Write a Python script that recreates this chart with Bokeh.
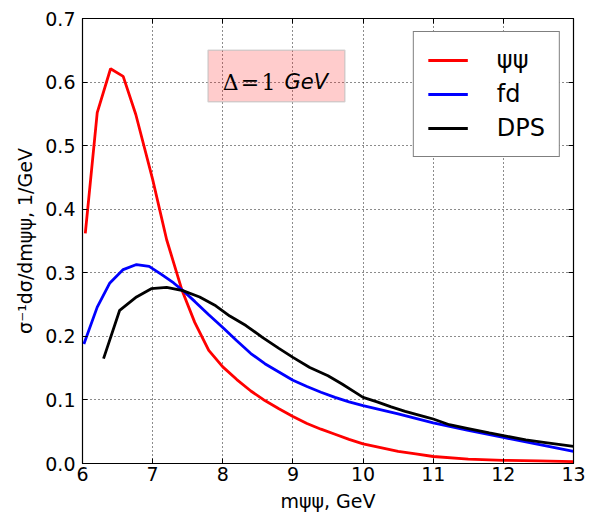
from bokeh.plotting import figure
from bokeh.models import (LinearAxis, Range1d, Legend, LegendItem, BoxAnnotation,
                          Label, FixedTicker, CustomJSTickFormatter, CustomLabelingPolicy)
from bokeh.embed import file_html
from bokeh.resources import INLINE

# ---- data ----
psi_x = [6.04, 6.21, 6.40, 6.58, 6.76, 7.0, 7.2, 7.42, 7.6, 7.8, 8.0, 8.2, 8.4, 8.6, 8.8,
         9.0, 9.2, 9.4, 9.6, 9.8, 10.0, 10.25, 10.5, 10.75, 11.0, 11.5, 12.0, 12.5, 13.0]
psi_y = [0.362, 0.552, 0.621, 0.609, 0.549, 0.447, 0.352, 0.272, 0.222, 0.178, 0.152, 0.132,
         0.114, 0.099, 0.086, 0.074, 0.063, 0.054, 0.046, 0.038, 0.031, 0.025, 0.019, 0.015,
         0.011, 0.007, 0.005, 0.004, 0.003]

fd_x = [6.02, 6.21, 6.39, 6.58, 6.77, 6.95, 7.13, 7.3, 7.43, 7.6, 7.8, 8.0, 8.2, 8.4, 8.6,
        8.8, 9.0, 9.2, 9.4, 9.6, 9.8, 10.0, 10.5, 11.0, 11.5, 12.0, 12.5, 13.0]
fd_y = [0.188, 0.246, 0.284, 0.305, 0.313, 0.310, 0.297, 0.284, 0.272, 0.255, 0.234, 0.214,
        0.193, 0.173, 0.157, 0.144, 0.131, 0.121, 0.112, 0.104, 0.097, 0.091, 0.078, 0.064,
        0.052, 0.041, 0.030, 0.019]

dps_x = [6.3, 6.53, 6.77, 6.98, 7.2, 7.43, 7.67, 7.9, 8.1, 8.33, 8.57, 8.8, 9.0, 9.24, 9.5,
         9.7, 9.9, 10.0, 10.2, 10.4, 10.6, 10.9, 11.0, 11.23, 11.5, 11.8, 12.0, 12.32, 12.6, 13.0]
dps_y = [0.165, 0.241, 0.262, 0.275, 0.277, 0.272, 0.262, 0.248, 0.232, 0.217, 0.198, 0.181,
         0.167, 0.151, 0.138, 0.125, 0.111, 0.104, 0.097, 0.089, 0.082, 0.073, 0.070, 0.061,
         0.055, 0.048, 0.044, 0.037, 0.033, 0.027]

x_ticks = [6, 7, 8, 9, 10, 11, 12, 13]
y_ticks = [0.0, 0.1, 0.2, 0.3, 0.4, 0.5, 0.6, 0.7]
series_labels = ["ψψ", "fd", "DPS"]
series_colors = ["#ff0000", "#0000ff", "#000000"]

FONT = "DejaVu Sans"
TICK_FS = "19px"

p = figure(width=591, height=521, output_backend="svg", toolbar_location=None,
           x_range=Range1d(6, 13), y_range=Range1d(0, 0.7),
           min_border_left=82, min_border_right=16, min_border_top=18, min_border_bottom=58)
p.background_fill_color = "white"
p.border_fill_color = "white"
p.outline_line_color = "black"
p.outline_line_width = 1.2

# axes
for ax, ticks in ((p.xaxis[0], x_ticks), (p.yaxis[0], y_ticks)):
    ax.ticker = FixedTicker(ticks=ticks)
    ax.major_tick_in = 5
    ax.major_tick_out = 0
    ax.minor_tick_in = 0
    ax.minor_tick_out = 0
    ax.axis_line_color = "black"
    ax.major_tick_line_color = "black"
    ax.major_label_text_font = FONT
    ax.major_label_text_font_size = TICK_FS
    ax.major_label_text_color = "black"
    ax.axis_label_text_font = FONT
    ax.axis_label_text_font_size = "19px"
    ax.axis_label_text_font_style = "normal"
    ax.axis_label_text_color = "black"

p.xaxis.major_label_standoff = 3
p.yaxis.major_label_standoff = 7
p.xaxis.axis_label = "mψψ, GeV"
p.yaxis.axis_label = "σ⁻¹dσ/dmψψ, 1/GeV"
p.xaxis.axis_label_standoff = 6
p.yaxis.axis_label_standoff = 6
p.yaxis.formatter = CustomJSTickFormatter(code="return tick.toFixed(1);")

hide_all = CustomLabelingPolicy(code="for (const i of indices) { indices.unset(i) } return indices")
right = LinearAxis(ticker=FixedTicker(ticks=y_ticks), major_tick_in=5, major_tick_out=0,
                   minor_tick_in=0, minor_tick_out=0, major_label_standoff=0,
                   major_label_policy=hide_all, axis_line_color="black")
top = LinearAxis(ticker=FixedTicker(ticks=x_ticks), major_tick_in=5, major_tick_out=0,
                 minor_tick_in=0, minor_tick_out=0, major_label_standoff=0,
                 major_label_policy=CustomLabelingPolicy(
                     code="for (const i of indices) { indices.unset(i) } return indices"),
                 axis_line_color="black")
p.add_layout(right, "right")
p.add_layout(top, "above")

# grid
for g in (p.xgrid[0], p.ygrid[0]):
    g.grid_line_color = "black"
    g.grid_line_dash = "1 3"
    g.grid_line_width = 1
    g.grid_line_alpha = 0.9
p.xgrid.ticker = FixedTicker(ticks=x_ticks)
p.ygrid.ticker = FixedTicker(ticks=y_ticks)

# lines
r1 = p.line(psi_x, psi_y, line_color=series_colors[0], line_width=2.8)
r2 = p.line(fd_x, fd_y, line_color=series_colors[1], line_width=2.8)
r3 = p.line(dps_x, dps_y, line_color=series_colors[2], line_width=2.8)

legend = Legend(items=[LegendItem(label=series_labels[0], renderers=[r1]),
                       LegendItem(label=series_labels[1], renderers=[r2]),
                       LegendItem(label=series_labels[2], renderers=[r3])],
                location="top_right")
legend.margin = 13
legend.padding = 14
legend.spacing = 6
legend.glyph_width = 40
legend.glyph_height = 28
legend.label_height = 28
legend.label_standoff = 29
legend.label_text_font = FONT
legend.label_text_font_size = "24px"
legend.label_text_color = "black"
legend.border_line_color = "black"
legend.border_line_width = 1.3
legend.background_fill_color = "white"
legend.background_fill_alpha = 1
p.add_layout(legend)

# annotation box
box = BoxAnnotation(left=7.79, right=9.74, bottom=0.569, top=0.650,
                    fill_color="#ff0000", fill_alpha=0.2,
                    line_color="#bbbbbb", line_alpha=0.6, line_width=1.5)
p.add_layout(box)
p.add_layout(Label(x=8.0, y=0.6, text="Δ\u200a=\u200a1", text_font="DejaVu Serif",
                   text_font_size="22px", text_color="black", text_baseline="alphabetic"))
p.add_layout(Label(x=8.88, y=0.6, text="GeV", text_font=FONT, text_font_style="italic",
                   text_font_size="21px", text_color="black", text_baseline="alphabetic"))

open("out.html", "w").write(file_html(p, INLINE))
